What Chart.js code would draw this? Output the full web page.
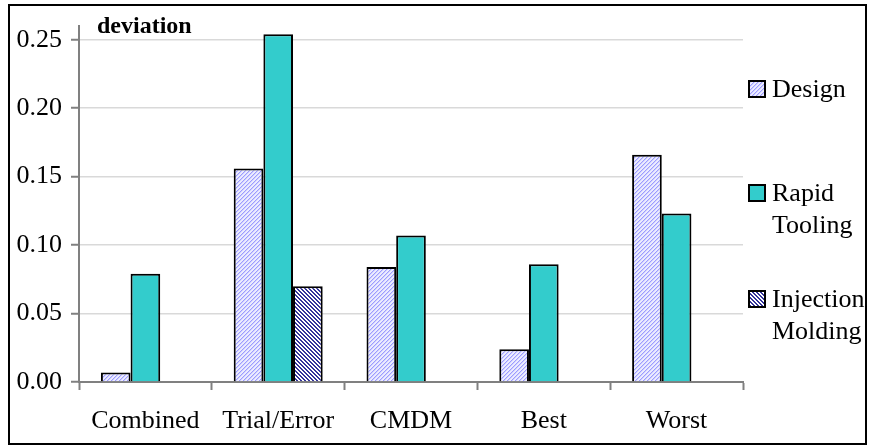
<!DOCTYPE html>
<html>
<head>
<meta charset="utf-8">
<script src="https://cdn.jsdelivr.net/npm/chart.js@4/dist/chart.umd.min.js"></script>
<style>
  body { margin: 0; background: #fff; }
  canvas { display: block; }
</style>
</head>
<body>
<canvas id="chart" width="869" height="446"></canvas>
<script>
const categories = ['Combined', 'Trial/Error', 'CMDM', 'Best', 'Worst'];
const seriesNames = ['Design', 'Rapid Tooling', 'Injection Molding'];
const design = [0.007, 0.156, 0.084, 0.024, 0.166];
const rapidTooling = [0.079, 0.254, 0.107, 0.086, 0.123];
const injectionMolding = [null, 0.070, null, null, null];
const yTicks = [0, 0.05, 0.10, 0.15, 0.20, 0.25];
const axisTitle = 'deviation';

const FONT = "'Liberation Serif', 'Times New Roman', serif";

function makePattern(kind) {
	var c = document.createElement('canvas');
	c.width = 4;
	c.height = 4;
	var g = c.getContext('2d');
	g.fillStyle = kind === 'design' ? '#ececff' : '#ffffff';
	g.fillRect(0, 0, 4, 4);
	for (var x = 0; x < 4; x++) {
		for (var y = 0; y < 4; y++) {
			if (kind === 'design') {
				var d = (x + y) % 4;
				if (d === 3) { g.fillStyle = '#9c9cff'; g.fillRect(x, y, 1, 1); }
				else if (d === 0) { g.fillStyle = '#cfcfff'; g.fillRect(x, y, 1, 1); }
			} else {
				if ((x - y + 4) % 4 < 2) { g.fillStyle = '#33339a'; g.fillRect(x, y, 1, 1); }
			}
		}
	}
	return document.getElementById('chart').getContext('2d').createPattern(c, 'repeat');
}

const designFill = makePattern('design');
const injectionFill = makePattern('injection');
const fills = [designFill, '#33cccc', injectionFill];

const frameAndLegend = {
	id: 'frameAndLegend',
	afterDraw: function(chart) {
		var ctx = chart.ctx;
		ctx.save();
		// outer frame
		ctx.strokeStyle = '#000';
		ctx.lineWidth = 2;
		ctx.strokeRect(9, 5, 857, 439);

		// axis title
		ctx.fillStyle = '#000';
		ctx.font = 'bold 24px ' + FONT;
		ctx.textBaseline = 'middle';
		ctx.textAlign = 'left';
		ctx.fillText(axisTitle, 97, 27);

		// legend
		var rows = [89, 193, 299];
		ctx.font = '26px ' + FONT;
		chart.data.datasets.forEach(function(ds, i) {
			var y = rows[i];
			ctx.fillStyle = ds.backgroundColor;
			ctx.fillRect(749, y - 8, 16, 16);
			ctx.strokeStyle = '#000';
			ctx.lineWidth = 2;
			ctx.strokeRect(749, y - 8, 16, 16);
			ctx.fillStyle = '#000';
			var words = ds.label.split(' ');
			words.forEach(function(w, j) {
				ctx.fillText(w, 772, y + 1 + j * 32);
			});
		});
		ctx.restore();
	}
};

const datasets = [design, rapidTooling, injectionMolding].map(function(values, i) {
	return {
		label: seriesNames[i],
		data: values,
		backgroundColor: fills[i],
		borderColor: '#000',
		borderWidth: 2,
		borderSkipped: 'start',
		categoryPercentage: 0.67,
		barPercentage: 1.0
	};
});

new Chart(document.getElementById('chart'), {
	type: 'bar',
	data: {
		labels: categories,
		datasets: datasets
	},
	options: {
		responsive: false,
		animation: false,
		layout: { padding: { left: 0, top: 26, right: 126, bottom: 0 } },
		plugins: {
			legend: { display: false },
			tooltip: { enabled: false }
		},
		scales: {
			x: {
				offset: true,
				grid: {
					offset: true,
					drawOnChartArea: false,
					drawTicks: true,
					tickLength: 8,
					tickColor: '#808080',
					tickWidth: 2
				},
				border: { color: '#808080', width: 2 },
				ticks: {
					color: '#000',
					font: { family: FONT, size: 26 },
					padding: 16,
					maxRotation: 0
				},
				afterFit: function(axis) { axis.height = 64; }
			},
			y: {
				min: 0,
				max: 0.26,
				afterBuildTicks: function(axis) {
					axis.ticks = yTicks.map(function(v) { return { value: v }; });
				},
				grid: {
					color: '#d9d9d9',
					lineWidth: 1.5,
					drawTicks: true,
					tickLength: 8,
					tickColor: '#808080',
					tickWidth: 2
				},
				border: { color: '#808080', width: 2 },
				ticks: {
					color: '#000',
					font: { family: FONT, size: 26 },
					padding: 9,
					callback: function(v) { return Number(v).toFixed(2); }
				},
				afterFit: function(axis) { axis.width = 79; }
			}
		}
	},
	plugins: [frameAndLegend]
});
</script>
</body>
</html>
